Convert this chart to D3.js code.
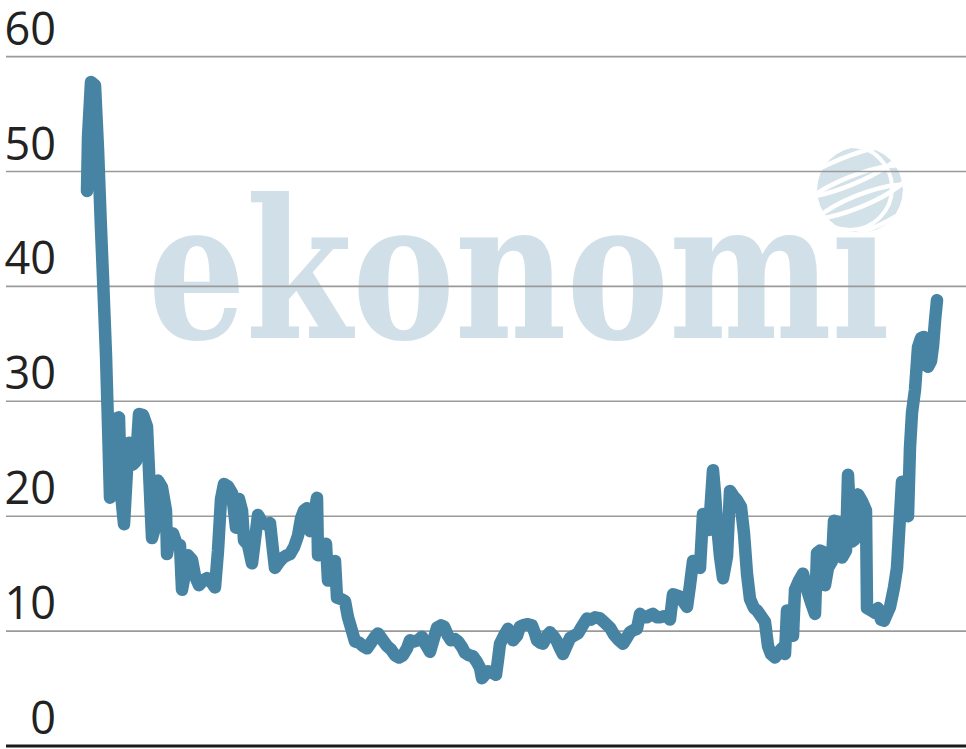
<!DOCTYPE html>
<html>
<head>
<meta charset="utf-8">
<script src="https://cdn.jsdelivr.net/npm/d3@7"></script>
<style>
  html, body { margin: 0; padding: 0; background: #ffffff; }
  svg { display: block; }
</style>
</head>
<body>
<div id="chart"></div>
<script>
// ---- data ----
const yTicks = [0, 10, 20, 30, 40, 50, 60];
const tickLabels = ["0", "10", "20", "30", "40", "50", "60"];
const periods = [0,1,4,8,11,14,16,17,19,21,23,26,29,32,34,37,40,42,46,49,52,56,60,63,65,68,71,75,79,80,83,86,90,93,95,98,101,105,108,112,116,120,124,128,131,134,137,141,145,149,152,155,157,161,165,168,171,175,179,183,186,188,192,196,200,203,207,211,214,217,220,223,227,230,231,235,239,241,245,248,250,254,258,261,265,268,272,276,280,284,288,291,295,300,304,308,312,316,320,323,327,331,335,339,343,347,350,354,357,361,364,368,371,375,378,382,386,390,393,395,398,401,405,409,411,413,417,421,424,426,430,433,436,440,445,448,450,453,456,460,463,467,470,473,476,480,483,487,491,495,500,504,508,513,517,523,527,532,536,539,543,547,550,553,557,560,563,566,570,573,577,580,583,586,590,593,596,600,603,606,610,613,616,619,622,626,628,630,633,636,640,643,646,650,654,657,660,663,667,670,674,678,681,684,688,692,695,698,700,703,706,708,712,716,720,724,728,730,733,736,738,741,745,747,751,755,759,761,763,765,768,771,775,779,780,784,788,791,794,797,800,803,807,810,813,815,818,821,823,825,828,831,834,837,839,841,844,846,848,850];
const values = [48.3,53.0,57.8,57.5,52.0,45.0,40.8,38.5,34.0,28.0,21.6,22.0,28.5,28.6,22.0,19.3,24.0,26.4,24.5,24.8,28.9,28.8,27.8,22.0,18.1,19.0,23.1,22.5,20.5,16.7,18.3,18.5,17.5,17.5,13.6,15.0,16.6,16.2,14.8,14.0,14.4,14.6,14.3,13.8,17.0,21.5,22.8,22.6,22.0,19.0,21.5,20.5,17.9,17.5,15.9,18.0,20.1,19.5,19.3,19.4,17.0,15.5,16.0,16.4,16.6,16.7,17.3,18.3,19.8,20.5,20.7,18.7,20.0,21.6,16.6,17.2,17.6,14.4,15.5,16.1,12.9,12.8,12.6,11.2,10.0,9.1,9.0,8.7,8.5,9.0,9.5,9.8,9.3,8.7,8.4,7.9,7.7,7.9,8.5,9.2,9.1,9.2,9.5,8.8,8.2,9.4,10.3,10.5,10.4,9.6,9.2,9.3,9.1,8.6,8.1,7.9,7.8,7.3,6.8,5.9,6.2,6.5,6.4,6.2,7.5,8.9,9.6,10.2,9.6,9.2,9.6,10.4,10.5,10.6,10.5,9.8,9.2,9.0,8.9,9.6,9.9,9.5,9.1,8.5,8.0,8.8,9.4,9.6,9.8,10.4,11.1,11.0,11.2,11.1,10.8,10.3,9.7,9.2,8.9,9.3,9.9,10.1,10.2,11.5,11.2,11.2,11.4,11.5,11.2,11.2,11.3,11.3,11.0,13.2,13.1,13.0,12.6,12.1,14.0,16.1,16.0,15.5,20.2,19.5,18.8,24.0,22.0,19.3,16.5,14.6,16.5,22.2,21.8,21.4,20.8,18.5,15.0,12.8,12.0,11.8,11.3,10.8,8.7,8.0,7.7,8.2,8.5,8.0,11.8,10.5,9.6,13.6,14.4,15.0,13.6,12.5,11.5,16.8,17.0,16.9,14.0,15.5,16.1,19.6,19.5,16.4,17.0,23.6,20.0,17.8,18.0,21.9,21.3,20.5,12.0,11.8,11.6,12.0,11.0,10.9,11.5,12.1,13.8,15.5,20.0,23.0,22.8,20.0,26.0,29.0,31.0,34.7,35.5,35.6,34.5,33.0,33.5,34.8,37.0,38.8];
const watermarkText = "ekonomi";

// ---- layout ----
const W = 966, H = 749;
const svg = d3.select("#chart").append("svg")
  .attr("width", W).attr("height", H)
  .attr("viewBox", `0 0 ${W} ${H}`);

const x = d3.scaleLinear().domain(d3.extent(periods)).range([87, 937]);
const y = d3.scaleLinear().domain([0, 60]).range([746, 56.6]);

// watermark
svg.append("text")
  .attr("x", 148).attr("y", 338)
  .attr("font-family", "'DejaVu Serif', 'Liberation Serif', serif")
  .attr("font-weight", "bold")
  .attr("font-size", 192)
  .attr("textLength", 742)
  .attr("lengthAdjust", "spacingAndGlyphs")
  .attr("fill", "#d1e0e8")
  .text(watermarkText);

// globe logo
const defs = svg.append("defs");
defs.append("clipPath").attr("id", "globeClip")
  .append("circle").attr("cx", 0).attr("cy", 0).attr("r", 43);
const globe = svg.append("g").attr("transform", "translate(860,190)");
globe.append("circle").attr("r", 46).attr("fill", "#ffffff");
const gg = globe.append("g").attr("clip-path", "url(#globeClip)");
gg.append("circle").attr("r", 43).attr("fill", "#d3e1e9");
[-22, 0, 22].forEach((cy, i) => {
  gg.append("ellipse")
    .attr("cx", -6).attr("cy", cy)
    .attr("rx", 60).attr("ry", 14 + i * 2)
    .attr("transform", "rotate(-22)")
    .attr("fill", "none")
    .attr("stroke", "#ffffff")
    .attr("stroke-width", 4.5);
});
gg.append("circle").attr("cx", -10).attr("cy", -2).attr("r", 42)
  .attr("fill", "none").attr("stroke", "#ffffff").attr("stroke-width", 4);

// gridlines
svg.append("g").selectAll("line")
  .data(yTicks.filter(d => d > 0))
  .join("line")
  .attr("x1", 6).attr("x2", W)
  .attr("y1", d => y(d)).attr("y2", d => y(d))
  .attr("stroke", "#9a9a9a")
  .attr("stroke-width", 1.6);

// baseline
svg.append("line")
  .attr("x1", 6).attr("x2", W)
  .attr("y1", y(0)).attr("y2", y(0))
  .attr("stroke", "#1a1a1a")
  .attr("stroke-width", 3);

// tick labels
svg.append("g").selectAll("text")
  .data(yTicks)
  .join("text")
  .attr("x", 56)
  .attr("y", d => y(d) - 12)
  .attr("text-anchor", "end")
  .attr("font-family", "'Open Sans', 'Noto Sans', sans-serif")
  .attr("font-size", 45)
  .attr("fill", "#222222")
  .text((d, i) => tickLabels[i]);

// line
const series = periods.map((p, i) => ({ p, v: values[i] }));
svg.append("path")
  .datum(series)
  .attr("d", d3.line().x(d => x(d.p)).y(d => y(d.v)))
  .attr("fill", "none")
  .attr("stroke", "#4784a3")
  .attr("stroke-width", 12.5)
  .attr("stroke-linejoin", "round")
  .attr("stroke-linecap", "round");
</script>
</body>
</html>
